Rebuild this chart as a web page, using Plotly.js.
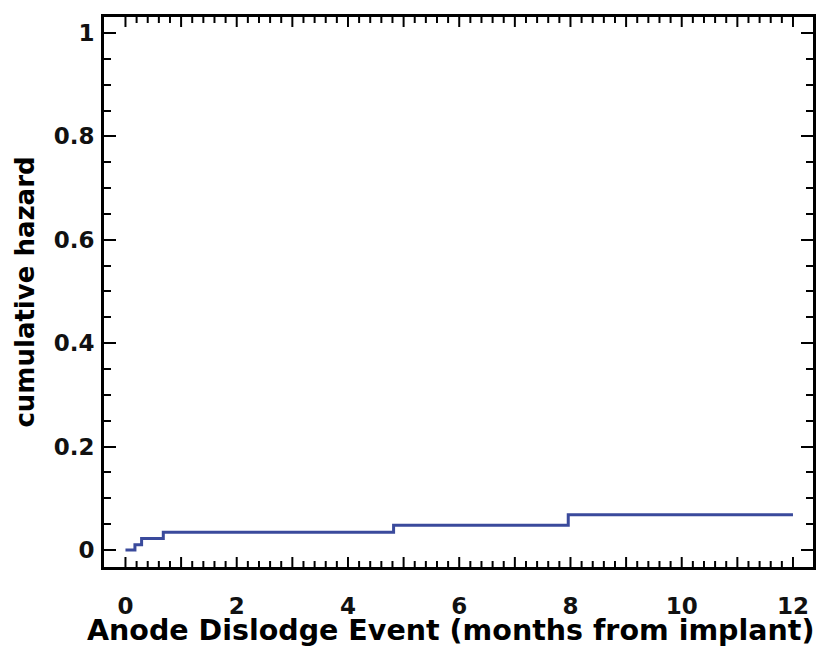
<!DOCTYPE html>
<html>
<head>
<meta charset="utf-8">
<script src="https://cdn.plot.ly/plotly-3.0.1.min.js"></script>
<style>html,body{margin:0;padding:0;background:#fff;} .c{width:819px;height:647px;}</style>
</head>
<body>
<div id="chart" class="c"></div>
<script>
// Step data (months from implant vs cumulative hazard)
var months = [0, 0.17, 0.29, 0.68, 4.82, 7.96, 12];
var hazard = [0, 0.01, 0.022, 0.034, 0.048, 0.068, 0.068];

var xTickVals = [0, 2, 4, 6, 8, 10, 12];
var xTickText = ['0', '2', '4', '6', '8', '10', '12'];
var xMarkVals = [0, 1, 2, 3, 4, 5, 6, 7, 8, 9, 10, 11, 12];
var yTickVals = [0, 0.2, 0.4, 0.6, 0.8, 1];
var yTickText = ['0', '0.2', '0.4', '0.6', '0.8', '1'];

var fontFam = '"DejaVu Sans", Arial, sans-serif';
var M = {l: 104, r: 6, t: 17, b: 80};
var W = 819, H = 647;
var plotH = H - M.t - M.b;

// inward tick marks on the bottom and top frame, placed on the x axis scale
function tickShape(xv, len, atTop) {
  return {
    type: 'line', xref: 'x', x0: xv, x1: xv,
    yref: 'paper', ysizemode: 'pixel', yanchor: atTop ? 1 : 0,
    y0: 0, y1: atTop ? -len : len,
    line: {color: '#000', width: 2}, layer: 'above'
  };
}
var shapes = [];
xMarkVals.forEach(function (v) {
  shapes.push(tickShape(v, 10, false), tickShape(v, 10, true));
  if (v < 12) {
    for (var k = 1; k < 5; k++) {
      var m = v + k * 0.2;
      shapes.push(tickShape(m, 6, false), tickShape(m, 6, true));
    }
  }
});

var xa = {
  range: [-0.386, 12.36], tickmode: 'array', tickvals: xTickVals, ticktext: xTickText,
  ticks: '', ticklabelstandoff: 16,
  showline: true, linecolor: '#000', linewidth: 3, mirror: true, showgrid: false, zeroline: false,
  automargin: false,
  tickfont: {family: fontFam, size: 23, color: '#111', weight: 'bold'}
};
var ya = {
  range: [-0.033, 1.031], tickmode: 'array', tickvals: yTickVals, ticktext: yTickText,
  ticks: 'inside', ticklen: 12, tickwidth: 2, tickcolor: '#000',
  minor: {tickmode: 'linear', tick0: 0, dtick: 0.05, ticks: 'inside', ticklen: 7, tickwidth: 2, tickcolor: '#000'},
  ticklabelstandoff: 2,
  showline: true, linecolor: '#000', linewidth: 3, mirror: 'allticks', showgrid: false, zeroline: false,
  automargin: false,
  tickfont: {family: fontFam, size: 23, color: '#111', weight: 'bold'},
  title: {text: '<b>cumulative hazard</b>', font: {family: fontFam, size: 26, color: '#000'}, standoff: 12}
};

var lay = {
  width: W, height: H, margin: M,
  paper_bgcolor: '#fff', plot_bgcolor: '#fff', showlegend: false,
  xaxis: xa, yaxis: ya, shapes: shapes,
  annotations: [{
    text: '<b>Anode Dislodge Event (months from implant)</b>',
    xref: 'paper', yref: 'paper', x: (450 - M.l) / (W - M.l - M.r), y: -63 / plotH,
    xanchor: 'center', yanchor: 'middle', showarrow: false,
    font: {family: fontFam, size: 28.5, color: '#000'}
  }]
};
var tr = {
  x: months, y: hazard, type: 'scatter', mode: 'lines',
  line: {shape: 'hv', color: '#3a4a9c', width: 3}, hoverinfo: 'skip'
};
Plotly.newPlot('chart', [tr], lay, {displayModeBar: false, staticPlot: true});
</script>
</body>
</html>
